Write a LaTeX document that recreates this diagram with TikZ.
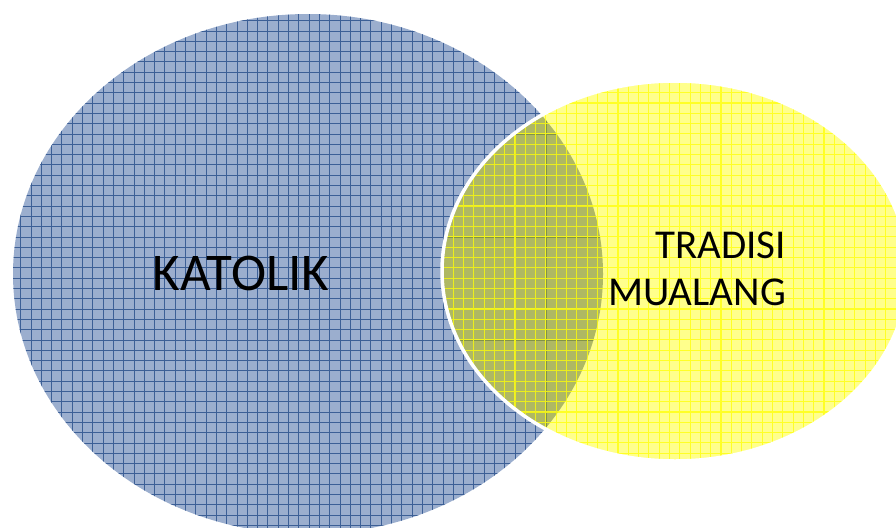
\documentclass[tikz,border=0pt]{standalone}
\usepackage{fontspec}
\setmainfont{Carlito}
\begin{document}
\begin{tikzpicture}[x=1pt,y=-1pt,
  bluefill/.style={fill={rgb,255:red,155;green,174;blue,206}},
  bluegrid/.style={draw={rgb,255:red,60;green,95;blue,150},line width=0.7pt},
  yellowfill/.style={fill={rgb,255:red,255;green,255;blue,0},fill opacity=0.45},
  yellowgrid/.style={draw={rgb,255:red,255;green,255;blue,20},line width=1.1pt,opacity=0.85},
  label/.style={font=\fontsize{#1}{#1}\selectfont,text=black,inner sep=0pt}]
  \useasboundingbox (0,0) rectangle (896,527);
  % Katolik set
  \path[bluefill] (308,274) ellipse [x radius=295, y radius=260];
  \begin{scope}
    \clip (308,274) ellipse [x radius=295, y radius=260];
    \draw[bluegrid,step=10.3pt] (0,0) grid (896,540);
  \end{scope}
  % Tradisi Mualang set
  \path[yellowfill] (675,271) ellipse [x radius=233, y radius=190];
  \begin{scope}
    \clip (308,274) ellipse [x radius=295, y radius=260];
    \fill[black,opacity=0.12] (675,271) ellipse [x radius=233, y radius=190];
  \end{scope}
  \begin{scope}
    \clip (675,271) ellipse [x radius=233, y radius=190];
    \draw[yellowgrid,step=10.3pt] (0,0) grid (920,540);
  \end{scope}
  \draw[white,line width=3.5pt] (675,271) ellipse [x radius=233, y radius=190];
  % labels
  \node[label=53,anchor=base] (katolik) at (241,290) {KATOLIK};
  \node[label=41,anchor=base east] (tradisi) at (786,258) {TRADISI};
  \node[label=41,anchor=base east] (mualang) at (786,305) {MUALANG};
\end{tikzpicture}
\end{document}
